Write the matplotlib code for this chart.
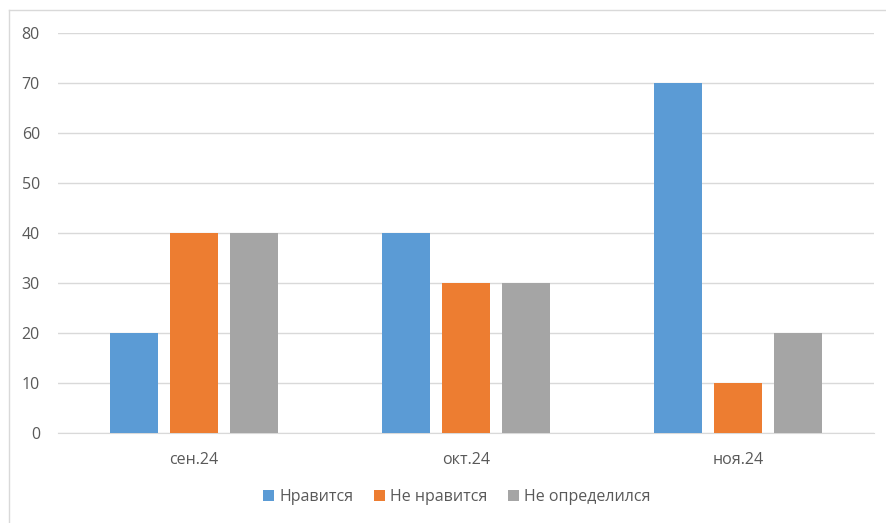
import matplotlib
matplotlib.use("Agg")
import matplotlib.pyplot as plt
import numpy as np
from matplotlib.lines import Line2D

plt.rcParams['font.family'] = ['Open Sans', 'DejaVu Sans']

categories = ["сен.24", "окт.24", "ноя.24"]
series_names = ["Нравится", "Не нравится", "Не определился"]
likes = [20, 40, 70]
dislikes = [40, 30, 10]
undecided = [40, 30, 20]
yticks = [0, 10, 20, 30, 40, 50, 60, 70, 80]

colors = ["#5B9BD5", "#ED7D31", "#A5A5A5"]
text_color = "#595959"

fig = plt.figure(figsize=(8.87, 5.23), dpi=100)
ax = fig.add_axes([58/887, 1-433/523, (874-58)/887, 400/523])

x = np.arange(len(categories))
w = 48/272.0
off = 60/272.0
for i, (vals, c, name) in enumerate(zip([likes, dislikes, undecided], colors, series_names)):
    ax.bar(x + (i-1)*off, vals, width=w, color=c, label=name, zorder=3)

ax.set_xlim(-0.5, 2.5)
ax.set_ylim(0, 80)
ax.set_yticks(yticks)
ax.set_xticks(x)
ax.set_xticklabels(categories)
ax.grid(axis='y', color='#D9D9D9', linewidth=1, zorder=0)
for s in ax.spines.values():
    s.set_visible(False)
ax.spines['bottom'].set_visible(True)
ax.spines['bottom'].set_color('#D9D9D9')
ax.tick_params(axis='both', length=0, colors=text_color, labelsize=11.5)
ax.tick_params(axis='y', pad=13)
ax.tick_params(axis='x', pad=14)

leg = fig.legend(loc='center', bbox_to_anchor=(457/887, 1-497/523), ncol=3,
                 frameon=False, fontsize=11.5, handlelength=0.7, handleheight=0.7,
                 handletextpad=0.3, columnspacing=1.3)
for t in leg.get_texts():
    t.set_color(text_color)

# outer frame (top and left edges visible)
fig.add_artist(Line2D([9/887, 1], [1-10/523, 1-10/523], color='#D9D9D9', linewidth=1, transform=fig.transFigure))
fig.add_artist(Line2D([9/887, 9/887], [0, 1-10/523], color='#D9D9D9', linewidth=1, transform=fig.transFigure))

fig.savefig("out.png", dpi=100)
